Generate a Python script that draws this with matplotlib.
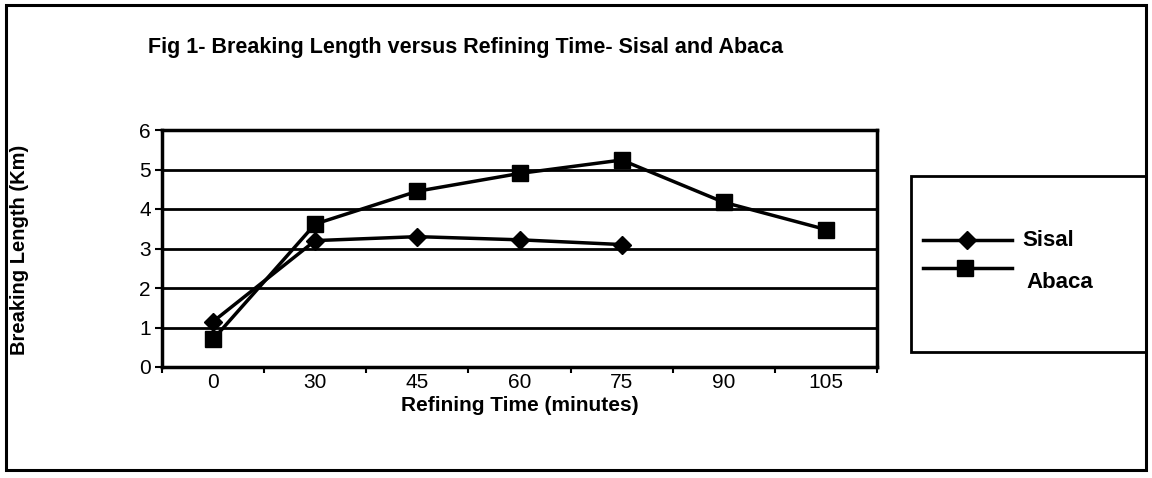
import numpy as np
import matplotlib.pyplot as plt
from matplotlib.patches import Rectangle
from matplotlib.lines import Line2D

# data
times = ["0", "30", "45", "60", "75", "90", "105"]
sisal = [1.15, 3.2, 3.3, 3.22, 3.1]
abaca = [0.7, 3.62, 4.45, 4.9, 5.24, 4.17, 3.48]
yticks = [0, 1, 2, 3, 4, 5, 6]

W, H = 1152, 478
fig = plt.figure(figsize=(W / 100, H / 100), dpi=100)
reg = ['Liberation Sans', 'DejaVu Sans']

# outer frame
fig.patches.append(Rectangle((6 / W, 8 / H), 1140 / W, 465 / H, transform=fig.transFigure,
                             fill=False, edgecolor='black', lw=2.2))

ax = fig.add_axes([162 / W, 1 - 367 / H, 715 / W, 237 / H])
x = np.arange(len(times))
ax.plot(x[:len(sisal)], sisal, color='black', lw=2.5, marker='D', ms=9, label='Sisal')
ax.plot(x, abaca, color='black', lw=2.5, marker='s', ms=12, label='Abaca')

ax.set_xlim(-0.5, len(times) - 0.5)
ax.set_ylim(0, 6)
ax.set_yticks(yticks)
ax.set_yticklabels([str(v) for v in yticks], family=reg, fontsize=15)
ax.yaxis.grid(True, color='black', lw=2)
ax.set_axisbelow(True)
ax.set_xticks(np.arange(-0.5, len(times), 1.0))
ax.set_xticklabels([])
ax.set_xticks(x, minor=True)
ax.set_xticklabels(times, minor=True, family=reg, fontsize=15)
ax.tick_params(axis='x', which='minor', length=0, pad=4)
ax.tick_params(axis='x', which='major', length=4, width=1.5)
ax.tick_params(axis='y', length=5, width=1.5, pad=3)
for s in ax.spines.values():
    s.set_linewidth(2.5)

ax.set_xlabel("Refining Time (minutes)", family=reg, fontsize=15, fontweight='bold', labelpad=3)
fig.text(20 / W, 1 - 250 / H, "Breaking Length (Km)", rotation=90, ha='center', va='center',
         family=reg, fontsize=14.5, fontweight='bold')
fig.text(148 / W, 1 - 47 / H, "Fig 1- Breaking Length versus Refining Time- Sisal and Abaca",
         ha='left', va='center', family=reg, fontsize=15.5, fontweight='bold')

# legend box
fig.patches.append(Rectangle((911 / W, 1 - 352 / H), 235 / W, 176 / H, transform=fig.transFigure,
                             fill=False, edgecolor='black', lw=2))
fig.lines.append(Line2D([923 / W, 1012 / W], [1 - 240 / H] * 2, transform=fig.transFigure,
                        color='black', lw=2.5))
fig.lines.append(Line2D([967 / W], [1 - 240 / H], transform=fig.transFigure,
                        color='black', marker='D', ms=9, ls='none'))
fig.lines.append(Line2D([923 / W, 1012 / W], [1 - 268 / H] * 2, transform=fig.transFigure,
                        color='black', lw=2.5))
fig.lines.append(Line2D([965 / W], [1 - 268 / H], transform=fig.transFigure,
                        color='black', marker='s', ms=12, ls='none'))
fig.text(1022 / W, 1 - 240 / H, "Sisal", ha='left', va='center', family=reg,
         fontsize=16, fontweight='bold')
fig.text(1026 / W, 1 - 282 / H, "Abaca", ha='left', va='center', family=reg,
         fontsize=16, fontweight='bold')

fig.savefig("out.png", dpi=100)
